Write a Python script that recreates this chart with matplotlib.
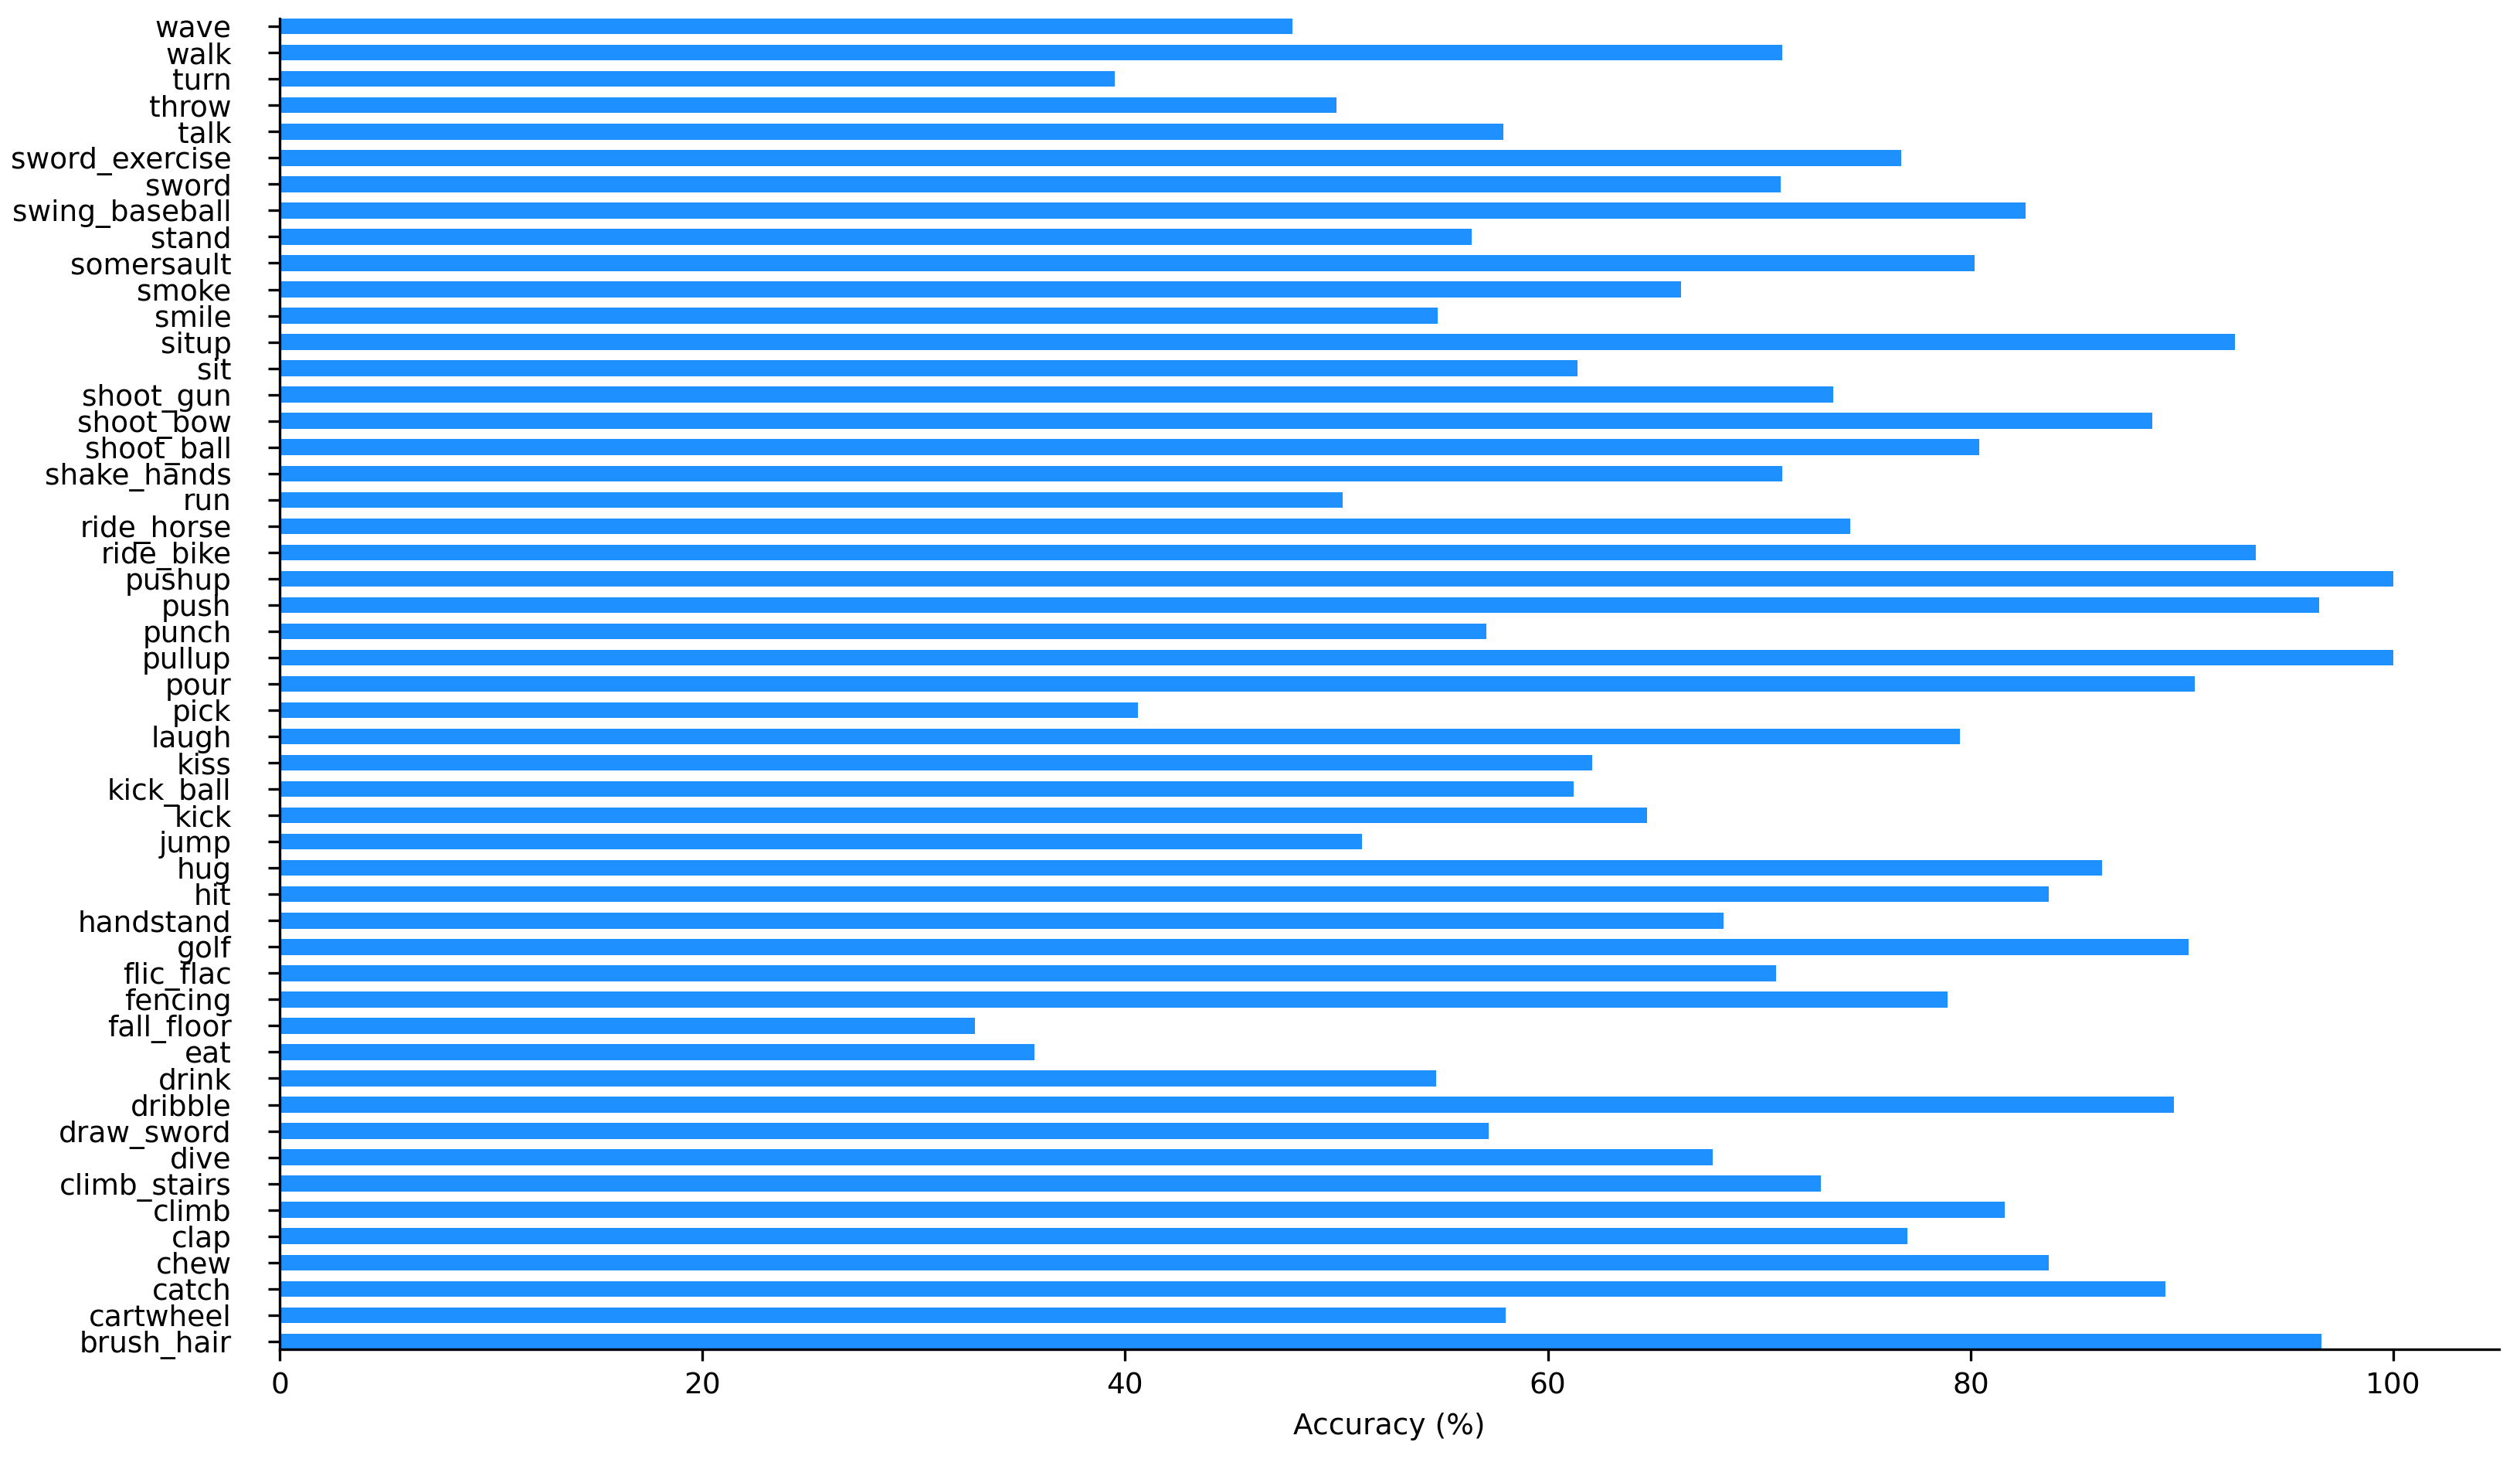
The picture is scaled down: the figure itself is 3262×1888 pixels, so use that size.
import matplotlib.pyplot as plt

# classes, top to bottom as in the figure
classes = ["wave", "walk", "turn", "throw", "talk", "sword_exercise", "sword",
           "swing_baseball", "stand", "somersault", "smoke", "smile", "situp", "sit",
           "shoot_gun", "shoot_bow", "shoot_ball", "shake_hands", "run", "ride_horse",
           "ride_bike", "pushup", "push", "punch", "pullup", "pour", "pick", "laugh",
           "kiss", "kick_ball", "kick", "jump", "hug", "hit", "handstand", "golf",
           "flic_flac", "fencing", "fall_floor", "eat", "drink", "dribble", "draw_sword",
           "dive", "climb_stairs", "climb", "clap", "chew", "catch", "cartwheel", "brush_hair"]

accuracy = [47.9, 71.1, 39.5, 50.0, 57.9, 76.7, 71.0,
            82.6, 56.4, 80.2, 66.3, 54.8, 92.5, 61.4,
            73.5, 88.6, 80.4, 71.1, 50.3, 74.3,
            93.5, 100.0, 96.5, 57.1, 100.0, 90.6, 40.6, 79.5,
            62.1, 61.2, 64.7, 51.2, 86.2, 83.7, 68.3, 90.3,
            70.8, 78.9, 32.9, 35.7, 54.7, 89.6, 57.2,
            67.8, 72.9, 81.6, 77.0, 83.7, 89.2, 58.0, 96.6]

# barh draws from bottom up, so reverse
cls = classes[::-1]
acc = accuracy[::-1]

fig = plt.figure(figsize=(3262 / 300, 1888 / 300), dpi=300)
ax = fig.add_axes([0.111, 0.0752, 0.8807, 0.9121])
ax.barh(cls, acc, height=0.6, color="dodgerblue")
ax.margins(y=0)
ax.set_xlim(0, 105)
ax.set_xticks([0, 20, 40, 60, 80, 100])
ax.tick_params(axis="both", labelsize=9)
ax.tick_params(axis="y", pad=11.5)
ax.set_xlabel("Accuracy (%)", fontsize=9)
ax.spines["top"].set_visible(False)
ax.spines["right"].set_visible(False)

fig.savefig("out.png", dpi=300)
